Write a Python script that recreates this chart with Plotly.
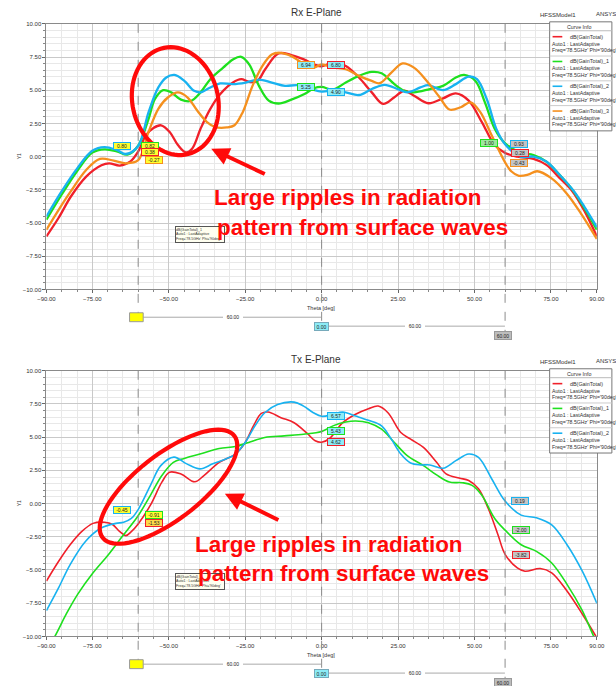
import numpy as np
import plotly.graph_objects as go

W, H = 616, 686

# ---------------- Rx E-Plane (top) data ----------------
rx_red_theta = [-90, -86, -82, -77, -72, -69.5, -66, -62.5, -60, -57.5, -55, -52.5, -49.7, -47, -44.4, -42.3,
                -39.6, -36.4, -33.2, -29, -26.3, -23.7, -21, -18.4, -14.1, -9.9, -5.6, -2.5, 0, 4.2, 7.9, 12.2,
                16.4, 20.1, 23.8, 27, 30.2, 34.9, 39.7, 43.9, 48.1, 52.4, 56.6, 60, 64, 69.3, 73.5, 77.8, 82, 86, 90]
rx_red_val = [-6.0, -4.6, -3.0, -1.5, -0.65, -0.5, -0.67, -0.35, 0.38, 1.6, 2.16, 2.36, 1.86, 0.87, 0.32, 0.62,
              2.1, 3.6, 4.7, 5.58, 5.83, 5.63, 5.7, 6.6, 7.77, 7.65, 7.3, 6.95, 6.80, 7.12, 6.82, 5.96,
              4.84, 3.97, 4.47, 4.96, 4.59, 4.02, 4.39, 4.76, 4.22, 2.6, 0.87, 0.28, 0.0, -0.17, -0.62, -1.6, -2.6, -4.1, -6.0]

rx_green_theta = [-90, -85, -80, -75, -71, -67, -63.5, -60, -56.6, -54.5, -51.8, -49.2, -46, -42.8, -39.6, -36.4,
                  -32.2, -29, -26.3, -23.7, -20.5, -17.3, -14.1, -9.9, -5.6, -2.5, 0, 3.7, 7.9, 12.2, 16.4, 19.6,
                  23.8, 27, 30.2, 35.4, 39.7, 43.9, 46.6, 50.3, 53.4, 56.6, 60, 65, 69.3, 73.5, 77.8, 82, 86, 90]
rx_green_val = [-4.75, -2.85, -1.1, 0.3, 0.55, 0.4, 0.15, 0.82, 2.85, 4.34, 5.0, 4.84, 4.29, 4.19, 4.84, 5.83,
                6.7, 7.32, 7.52, 6.95, 5.33, 4.22, 4.0, 4.29, 4.71, 5.15, 5.25, 5.05, 5.58, 6.08, 6.38, 6.28,
                5.46, 4.96, 4.84, 5.09, 5.33, 5.96, 6.15, 5.7, 4.09, 2.11, 1.0, 0.3, 0.12, -0.37, -1.36, -2.48, -3.9, -5.5]

rx_blue_theta = [-90, -85, -80, -75, -71, -67, -64, -60, -56.6, -53.4, -50.8, -48.1, -44.9, -41.7, -39.6, -36.4,
                 -33.2, -29, -24.8, -20.5, -16.3, -12, -7.8, -3.5, 0, 3.7, 7.9, 12.2, 16.4, 20.6, 24.9, 28,
                 32.3, 34.9, 39.7, 43.9, 48.1, 50.8, 54, 57.1, 60, 65, 69.3, 73.5, 77.8, 82.5, 86, 90]
rx_blue_val = [-4.5, -2.6, -0.9, 0.45, 0.72, 0.5, 0.2, 0.80, 3.35, 5.21, 5.96, 6.15, 5.7, 4.96, 4.84, 5.21,
               5.51, 5.46, 5.58, 5.8, 5.58, 5.33, 5.38, 5.09, 4.90, 4.96, 4.84, 4.64, 5.09, 5.41, 5.09, 4.84,
               5.21, 5.38, 5.01, 5.46, 6.03, 5.83, 4.34, 2.11, 0.93, 0.0, 0.0, -0.37, -1.36, -2.6, -3.8, -5.3]

rx_orange_theta = [-90, -86, -82, -77, -72.5, -68, -64, -60, -56.6, -53.4, -50.2, -47, -43.9, -40.7, -37.5, -34.8,
                   -31, -28.5, -25.8, -22.6, -19.4, -16.3, -13.6, -9.9, -5.6, -2.5, 0, 3.7, 7.9, 12.2, 16.4, 19,
                   22.8, 26.5, 30.2, 34.4, 38.6, 41.8, 45.5, 48.7, 51.9, 55.6, 60, 62, 64.5, 67.5, 70.5, 75, 80, 85, 90]
rx_orange_val = [-5.5, -4.0, -2.6, -1.0, -0.17, -0.3, -0.5, -0.27, 1.86, 3.6, 4.47, 4.84, 4.47, 3.47, 2.6, 2.23,
                 2.2, 2.36, 3.35, 5.33, 6.82, 7.69, 7.82, 7.57, 6.95, 6.7, 6.94, 6.7, 6.58, 6.08, 5.7, 5.53,
                 6.33, 7.02, 6.7, 5.7, 4.47, 3.55, 3.72, 4.09, 3.35, 1.61, -0.43, -1.1, -1.44, -1.36, -1.1, -1.6, -2.73, -4.34, -6.2]

# ---------------- Tx E-Plane (bottom) data ----------------
tx_red_theta = [-90, -86, -82.25, -78.5, -74.75, -71, -68.5, -66, -64, -62.25, -60, -56, -52.25, -49.75, -46, -41.5,
                -38.5, -33.5, -28.2, -25, -22.3, -19.7, -17.5, -13.3, -9, -4.8, -2.1, 0, 2.6, 6.9, 11.1, 15.3,
                18.5, 21.7, 25.9, 29.1, 33.3, 37.6, 40.7, 45, 48.1, 51.3, 54.5, 57.7, 60, 64, 66.5, 71.5, 75.25,
                80.25, 85.25, 90]
tx_red_val = [-5.83, -4.34, -3.1, -2.11, -1.49, -1.41, -1.56, -2.11, -2.41, -2.11, -1.53, -0.12, 1.61, 2.36, 2.23, 1.64,
              2.11, 3.1, 3.73, 4.6, 5.85, 6.79, 6.89, 6.47, 6.09, 5.3, 4.73, 4.62, 4.9, 6.09, 6.72, 7.14,
              7.34, 6.84, 5.35, 4.85, 4.23, 3.11, 2.24, 1.92, 1.74, 1.12, -0.37, -2.36, -3.82, -4.84, -5.09, -4.89, -5.21,
              -6.58, -8.31, -10.1]

tx_green_theta = [-90, -87.25, -83.5, -79.75, -74.75, -69.75, -65.3, -60, -56, -52.25, -48.5, -45, -39.8, -33.5, -28.2,
                  -23.9, -18.6, -12.2, -5.9, 0, 3.7, 7.9, 11.1, 15.3, 19.6, 23.8, 28, 33.3, 37.6, 41.8, 46, 49.2,
                  52.4, 56.6, 60, 65.25, 70.25, 75.25, 80.25, 85.25, 89, 90]
tx_green_val = [-11.0, -10.0, -8.31, -6.82, -5.21, -3.85, -2.5, -0.91, 0.62, 2.11, 3.1, 3.4, 3.73, 4.15, 4.3,
                4.6, 4.98, 5.1, 5.22, 5.43, 5.85, 6.14, 6.22, 6.09, 5.6, 4.6, 3.61, 2.86, 2.16, 1.62, 1.57, 1.37,
                0.62, -1.12, -2.0, -3.1, -3.6, -4.47, -6.08, -8.06, -10.0, -10.4]

tx_blue_theta = [-90, -86, -82.25, -77.25, -72.25, -67.25, -64.75, -62.25, -60, -55.75, -52.6, -48.3, -44.1, -39.8,
                 -35.6, -31.3, -28.2, -25, -21.8, -18.6, -14.4, -9, -5.9, -2.7, 0, 3.7, 6.9, 11.1, 15.3, 19.6,
                 22.8, 25.9, 29.1, 32.3, 35.4, 39.7, 43.9, 48.1, 51.3, 55.6, 60, 65.25, 70.25, 75.25, 80.25, 85.25, 90]
tx_blue_val = [-8.06, -6.33, -4.59, -2.85, -1.86, -1.49, -1.41, -1.12, -0.45, 1.49, 2.86, 3.5, 2.99, 2.61,
               2.99, 3.36, 3.73, 4.6, 5.85, 6.84, 7.46, 7.64, 7.34, 6.84, 6.57, 6.72, 6.89, 6.59, 6.27, 5.85,
               4.85, 3.73, 3.06, 2.91, 2.91, 2.66, 3.23, 3.73, 3.48, 1.87, 0.19, -0.87, -1.07, -1.61, -3.1, -5.09, -7.5]

# ---------------- markers / labels ----------------
marker_theta = [-60, 0, 60]
rx_m1_labels = ["0.80", "0.82", "0.38", "-0.27"]
rx_m2_labels = ["6.94", "6.80", "5.25", "4.90"]
rx_m3_labels = ["1.00", "0.93", "0.28", "-0.43"]
tx_m1_labels = ["-0.45", "-0.91", "-1.53"]
tx_m2_labels = ["6.57", "5.43", "4.62"]
tx_m3_labels = ["0.19", "-2.00", "-3.82"]
delta_label = "60.00"
x_tickvals = [-90, -75, -50, -25, 0, 25, 50, 75, 90]
y_tickvals = [10, 7.5, 5, 2.5, 0, -2.5, -5, -7.5, -10]

RED, GREEN, BLUE, ORANGE = "#f0202a", "#1ee01e", "#18b2f0", "#f5901e"
YEL, CYA, GRY = "#ffff30", "#8cecf6", "#c4c4c4"


def P(x, y):
    return x / W, 1 - y / H


fig = go.Figure()

top_x = [38.5, 604.5]
top_y = [21, 289]
bot_y = [371, 639]

for name, th, v, c in [("dB(GainTotal)", rx_red_theta, rx_red_val, RED),
                       ("dB(GainTotal)_1", rx_green_theta, rx_green_val, GREEN),
                       ("dB(GainTotal)_2", rx_blue_theta, rx_blue_val, BLUE),
                       ("dB(GainTotal)_3", rx_orange_theta, rx_orange_val, ORANGE)]:
    fig.add_trace(go.Scatter(x=th, y=v, mode="lines", name=name, xaxis="x", yaxis="y",
                             line=dict(color=c, width=2.3, shape="spline", smoothing=1.0)))
for name, th, v, c in [("dB(GainTotal)", tx_red_theta, tx_red_val, RED),
                       ("dB(GainTotal)_1", tx_green_theta, tx_green_val, GREEN),
                       ("dB(GainTotal)_2", tx_blue_theta, tx_blue_val, BLUE)]:
    fig.add_trace(go.Scatter(x=th, y=v, mode="lines", name=name, xaxis="x2", yaxis="y2",
                             line=dict(color=c, width=1.6, shape="spline", smoothing=1.0)))

tickfont = dict(family="Liberation Sans, Arial", size=6, color="#333")


def xax(anchor):
    return dict(domain=[top_x[0] / W, top_x[1] / W], anchor=anchor, range=[-90, 90],
                tickvals=x_tickvals, tickformat=".2f", tickfont=tickfont,
                showgrid=True, gridcolor="#c9c9c9", gridwidth=1, zeroline=False,
                showline=True, linecolor="#8a8a8a", mirror=True, ticks="outside", ticklen=3, tickcolor="#666",
                minor=dict(dtick=5, tick0=0, showgrid=True, gridcolor="#e8e8e8", ticks="outside", ticklen=2,
                           tickcolor="#888"))


def yax(anchor, ydom_px):
    return dict(domain=[1 - ydom_px[1] / H, 1 - ydom_px[0] / H], anchor=anchor, range=[-10, 10],
                tickvals=y_tickvals, tickformat=".2f", tickfont=tickfont,
                showgrid=True, gridcolor="#c9c9c9", gridwidth=1, zeroline=False,
                showline=True, linecolor="#8a8a8a", mirror=True, ticks="outside", ticklen=3, tickcolor="#666",
                minor=dict(dtick=0.5, tick0=0, showgrid=True, gridcolor="#e8e8e8", ticks="outside", ticklen=2,
                           tickcolor="#888"))


fig.update_layout(
    width=W, height=H, margin=dict(l=0, r=0, t=0, b=0), paper_bgcolor="white", plot_bgcolor="white",
    showlegend=False,
    xaxis=xax("y"), yaxis=yax("x", top_y),
    xaxis2=xax("y2"), yaxis2=yax("x2", bot_y),
)

shapes = []
ann = []


def text(x, y, s, size=6, color="#333", xanchor="center", bold=False, angle=0, family="Liberation Sans, Arial"):
    px_, py_ = P(x, y)
    ann.append(dict(x=px_, y=py_, xref="paper", yref="paper", text=("<b>%s</b>" % s) if bold else s,
                    showarrow=False, xanchor=xanchor, yanchor="middle", textangle=angle, borderpad=0,
                    font=dict(family=family, size=size, color=color)))


def box(x, y, s, fill, border, w=16, h=6, size=5):
    px_, py_ = P(x, y)
    ann.append(dict(x=px_, y=py_, xref="paper", yref="paper", text=s, showarrow=False,
                    xanchor="center", yanchor="middle", width=w, height=h, bgcolor=fill,
                    bordercolor=border, borderwidth=1, borderpad=0,
                    font=dict(family="Liberation Sans, Arial", size=size, color="#222")))


def rect(x0, y0, x1, y1, fill=None, line="#444", lw=1):
    a0, b0 = P(x0, y0)
    a1, b1 = P(x1, y1)
    shapes.append(dict(type="rect", xref="paper", yref="paper", x0=a0, y0=b0, x1=a1, y1=b1,
                       fillcolor=fill or "rgba(0,0,0,0)", line=dict(color=line, width=lw), layer="above"))


def hline(x0, x1, y, color="#999", lw=1, dash="solid"):
    a0, b = P(x0, y)
    a1, _ = P(x1, y)
    shapes.append(dict(type="line", xref="paper", yref="paper", x0=a0, y0=b, x1=a1, y1=b,
                       line=dict(color=color, width=lw, dash=dash), layer="above"))


def ellipse(cx, cy, a, b, ang, lw=4.2):
    t = np.linspace(0, 2 * np.pi, 80)
    r = np.radians(ang)
    xs = cx + a * np.cos(t) * np.cos(r) - b * np.sin(t) * np.sin(r)
    ys = cy + a * np.cos(t) * np.sin(r) + b * np.sin(t) * np.cos(r)
    pts = [P(x, y) for x, y in zip(xs, ys)]
    path = "M " + " L ".join("%.5f,%.5f" % p for p in pts) + " Z"
    shapes.append(dict(type="path", xref="paper", yref="paper", path=path,
                       line=dict(color="#ff0a0a", width=lw), layer="above"))


def arrow(hx, hy, tx, ty):
    px_, py_ = P(hx, hy)
    ann.append(dict(x=px_, y=py_, xref="paper", yref="paper", text="", showarrow=True,
                    ax=tx - hx, ay=ty - hy, arrowhead=2, arrowsize=0.9, arrowwidth=4, arrowcolor="#ff0a0a",
                    standoff=0))


def plot_block(ytop, ybot, title, marker_rows, legend_names, tip_y, texty, textx, ell, arr, xa):
    # title & model text
    text(316, ytop - 11, title, size=10, color="#333")
    text(565, ytop - 9, "HFSSModel1", size=6, color="#333")
    text(603, ytop - 10, "ANSYS", size=6, color="#333", xanchor="left")
    # y-axis title
    text(10, (ytop + ybot) / 2, "Y1", size=5, angle=-90)
    # x-axis title
    text(321, ybot + 19, "Theta [deg]", size=5.5)
    # marker dashed lines
    for i, th in enumerate(marker_theta):
        shapes.append(dict(type="line", xref=xa, yref="paper", x0=th, x1=th,
                           y0=1 - ytop / H, y1=1 - (ybot + 24 + 9 * i) / H,
                           line=dict(color="#8c8c8c", width=1, dash="dash"), layer="above"))
    # delta markers below
    r1 = ybot + 28
    r2 = ybot + 37
    r3 = ybot + 46
    hline(138, 321, r1, color="#aaa")
    rect(124, r1 - 4.5, 138, r1 + 4.5, fill="#ffff00", line="#999")
    box(230, r1, delta_label, "white", "white", w=18, h=6)
    hline(328, 510, r2, color="#aaa")
    box(321.5, r2, "0.00", CYA, "#7ab", w=13, h=7)
    box(418, r2, delta_label, "white", "white", w=18, h=6)
    box(508, r3, delta_label, "#bdbdbd", "#999", w=16, h=7)
    # marker value labels
    for (x, y, s, fill, border) in marker_rows:
        box(x, y, s, fill, border)
    # legend box
    n = len(legend_names)
    bx0, by0 = 556, ytop - 2
    by1 = by0 + 15 + 25 * n - 5
    rect(bx0, by0, 620, by1, fill="white", line="#777")
    text(586, by0 + 5, "Curve Info", size=5.3)
    hline(bx0, 620, by0 + 9, color="#bbb")
    for i, (nm, c) in enumerate(legend_names):
        y0 = by0 + 15 + 25 * i
        hline(559, 569, y0, color=c, lw=1.6)
        text(576, y0, nm, size=5.4, xanchor="left")
        text(557, y0 + 7, "Auto1 : LastAdaptive", size=5.2, xanchor="left")
        text(557, y0 + 13.5, "Freq='78.5GHz' Phi='90deg'", size=5.2, xanchor="left")
        if i < n - 1:
            hline(bx0, 620, y0 + 19.5, color="#ccc")
    # tooltip box
    tx_, ty_ = P(196, tip_y)
    ann.append(dict(x=tx_, y=ty_, xref="paper", yref="paper",
                    text="dB(GainTotal)_1<br>Auto1 : LastAdaptive<br>Freq='78.5GHz' Phi='90deg'",
                    showarrow=False, xanchor="center", yanchor="middle", align="left", width=48, height=15,
                    bgcolor="#fffff0", bordercolor="#555", borderwidth=1, borderpad=0,
                    font=dict(family="Liberation Sans, Arial", size=3.6, color="#333")))
    # annotation: ellipse, arrow, big red text
    ellipse(*ell)
    arrow(*arr)
    text(textx[0], texty, "Large ripples in radiation", size=22.4, color="#ff0a0a", bold=True)
    text(textx[1], texty + 30, "pattern from surface waves", size=22.4, color="#ff0a0a", bold=True)


rx_rows = [(116.5, 144, rx_m1_labels[0], YEL, BLUE), (145.5, 144, rx_m1_labels[1], YEL, GREEN),
           (145.5, 150, rx_m1_labels[2], YEL, RED), (149.5, 158.5, rx_m1_labels[3], YEL, ORANGE),
           (305.5, 62.5, rx_m2_labels[0], CYA, ORANGE), (336.5, 62.5, rx_m2_labels[1], CYA, RED),
           (305.5, 84.5, rx_m2_labels[2], CYA, GREEN), (336.5, 89.5, rx_m2_labels[3], CYA, BLUE),
           (493.5, 141.5, rx_m3_labels[0], "#9be89b", GREEN), (524.5, 142.5, rx_m3_labels[1], GRY, BLUE),
           (525, 151.5, rx_m3_labels[2], GRY, RED), (524.5, 161.5, rx_m3_labels[3], GRY, ORANGE)]
tx_rows = [(116, 511, tx_m1_labels[0], YEL, BLUE), (149, 517, tx_m1_labels[1], YEL, GREEN),
           (149, 525, tx_m1_labels[2], "#ffd84a", RED),
           (336.5, 417, tx_m2_labels[0], CYA, BLUE), (336.5, 432, tx_m2_labels[1], CYA, GREEN),
           (336.5, 443, tx_m2_labels[2], CYA, RED),
           (525.5, 502.5, tx_m3_labels[0], GRY, BLUE), (526.5, 532, tx_m3_labels[1], GRY, GREEN),
           (526.5, 557, tx_m3_labels[2], GRY, RED)]

plot_block(top_y[0], top_y[1], "Rx E-Plane", rx_rows,
           [("dB(GainTotal)", RED), ("dB(GainTotal)_1", GREEN), ("dB(GainTotal)_2", BLUE),
            ("dB(GainTotal)_3", ORANGE)],
           233.5, 196, (348.5, 363.5), (171, 99, 55, 44, 76), (208, 147, 263, 173), "x")
plot_block(bot_y[0], bot_y[1], "Tx E-Plane", tx_rows,
           [("dB(GainTotal)", RED), ("dB(GainTotal)_1", GREEN), ("dB(GainTotal)_2", BLUE)],
           583.5, 546, (329, 343.5), (164, 488, 85, 33, -37), (222, 495, 277, 522), "x2")

fig.update_layout(shapes=shapes, annotations=ann)
fig.write_html("out.html", config={"displayModeBar": False},
               post_script="document.body.style.margin='0px';document.body.style.overflow='hidden';")
